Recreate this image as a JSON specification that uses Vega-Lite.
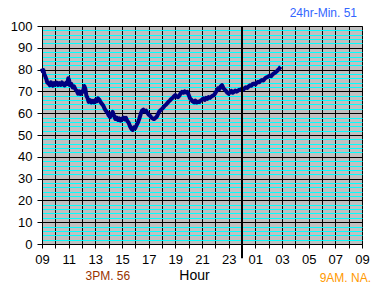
{
  "$schema": "https://vega.github.io/schema/vega-lite/v6.json",
  "autosize": "none",
  "width": 320,
  "height": 218,
  "padding": {"left": 42, "top": 26, "right": 23, "bottom": 46},
  "background": "white",
  "title": {"text": "24hr-Min. 51", "anchor": "end", "frame": "group", "color": "#3366FF", "font": "Arial", "fontSize": 12, "fontWeight": "normal", "offset": 0, "dx": -5},
  "config": {
    "view": {"fill": "#C0C0C0", "stroke": "#808080", "strokeWidth": 1},
    "axis": {"domainColor": "black", "domainWidth": 1, "labelFont": "Arial", "labelFontSize": 13, "labelColor": "black", "tickColor": "black", "gridOpacity": 1, "gridWidth": 1}
  },
  "data": {"values": [
    {"hour": 9.0, "temp": 80.5}, {"hour": 9.05, "temp": 79.2}, {"hour": 9.1, "temp": 79.8}, {"hour": 9.17, "temp": 78.0}, {"hour": 9.25, "temp": 76.8}, {"hour": 9.33, "temp": 75.5}, {"hour": 9.4, "temp": 74.0}, {"hour": 9.5, "temp": 73.6}, {"hour": 9.58, "temp": 72.8}, {"hour": 9.67, "temp": 74.2}, {"hour": 9.75, "temp": 73.3}, {"hour": 9.83, "temp": 72.6}, {"hour": 9.92, "temp": 73.8}, {"hour": 10.0, "temp": 73.2}, {"hour": 10.1, "temp": 74.0}, {"hour": 10.2, "temp": 72.9}, {"hour": 10.3, "temp": 73.8}, {"hour": 10.4, "temp": 73.0}, {"hour": 10.5, "temp": 74.1}, {"hour": 10.6, "temp": 73.1}, {"hour": 10.7, "temp": 72.7}, {"hour": 10.8, "temp": 73.9}, {"hour": 10.9, "temp": 73.4}, {"hour": 10.97, "temp": 76.0}, {"hour": 11.03, "temp": 75.2}, {"hour": 11.1, "temp": 72.8}, {"hour": 11.2, "temp": 73.4}, {"hour": 11.3, "temp": 71.8}, {"hour": 11.4, "temp": 72.3}, {"hour": 11.5, "temp": 71.0}, {"hour": 11.6, "temp": 70.3}, {"hour": 11.7, "temp": 69.0}, {"hour": 11.8, "temp": 70.0}, {"hour": 11.9, "temp": 68.8}, {"hour": 12.0, "temp": 69.5}, {"hour": 12.1, "temp": 70.6}, {"hour": 12.17, "temp": 72.5}, {"hour": 12.25, "temp": 71.2}, {"hour": 12.33, "temp": 68.0}, {"hour": 12.4, "temp": 67.2}, {"hour": 12.5, "temp": 65.2}, {"hour": 12.6, "temp": 66.0}, {"hour": 12.7, "temp": 64.9}, {"hour": 12.8, "temp": 65.6}, {"hour": 12.9, "temp": 65.0}, {"hour": 13.0, "temp": 66.0}, {"hour": 13.1, "temp": 65.4}, {"hour": 13.2, "temp": 66.8}, {"hour": 13.3, "temp": 66.2}, {"hour": 13.4, "temp": 65.0}, {"hour": 13.5, "temp": 64.2}, {"hour": 13.6, "temp": 63.4}, {"hour": 13.7, "temp": 62.0}, {"hour": 13.8, "temp": 61.0}, {"hour": 13.9, "temp": 60.4}, {"hour": 14.0, "temp": 59.0}, {"hour": 14.1, "temp": 58.2}, {"hour": 14.2, "temp": 59.6}, {"hour": 14.3, "temp": 60.6}, {"hour": 14.4, "temp": 58.8}, {"hour": 14.5, "temp": 57.4}, {"hour": 14.6, "temp": 58.0}, {"hour": 14.7, "temp": 56.9}, {"hour": 14.8, "temp": 57.6}, {"hour": 14.9, "temp": 56.6}, {"hour": 15.0, "temp": 57.3}, {"hour": 15.1, "temp": 58.0}, {"hour": 15.2, "temp": 57.2}, {"hour": 15.3, "temp": 57.8}, {"hour": 15.4, "temp": 56.4}, {"hour": 15.5, "temp": 55.6}, {"hour": 15.6, "temp": 54.0}, {"hour": 15.7, "temp": 52.8}, {"hour": 15.8, "temp": 52.3}, {"hour": 15.9, "temp": 53.5}, {"hour": 16.0, "temp": 53.2}, {"hour": 16.1, "temp": 54.6}, {"hour": 16.2, "temp": 55.8}, {"hour": 16.3, "temp": 57.5}, {"hour": 16.4, "temp": 59.6}, {"hour": 16.5, "temp": 61.2}, {"hour": 16.6, "temp": 61.6}, {"hour": 16.7, "temp": 60.8}, {"hour": 16.8, "temp": 61.2}, {"hour": 16.9, "temp": 60.2}, {"hour": 17.0, "temp": 59.3}, {"hour": 17.1, "temp": 58.8}, {"hour": 17.2, "temp": 58.0}, {"hour": 17.3, "temp": 57.6}, {"hour": 17.4, "temp": 57.3}, {"hour": 17.5, "temp": 57.8}, {"hour": 17.6, "temp": 58.3}, {"hour": 17.7, "temp": 59.6}, {"hour": 17.8, "temp": 60.8}, {"hour": 17.9, "temp": 61.4}, {"hour": 18.0, "temp": 62.0}, {"hour": 18.1, "temp": 62.6}, {"hour": 18.2, "temp": 63.4}, {"hour": 18.3, "temp": 63.9}, {"hour": 18.4, "temp": 64.6}, {"hour": 18.5, "temp": 65.3}, {"hour": 18.6, "temp": 65.9}, {"hour": 18.7, "temp": 66.6}, {"hour": 18.8, "temp": 67.0}, {"hour": 18.9, "temp": 67.8}, {"hour": 19.0, "temp": 68.3}, {"hour": 19.1, "temp": 67.6}, {"hour": 19.2, "temp": 67.3}, {"hour": 19.3, "temp": 68.0}, {"hour": 19.4, "temp": 69.2}, {"hour": 19.5, "temp": 69.8}, {"hour": 19.6, "temp": 69.4}, {"hour": 19.7, "temp": 70.0}, {"hour": 19.8, "temp": 69.5}, {"hour": 19.9, "temp": 69.8}, {"hour": 20.0, "temp": 68.4}, {"hour": 20.1, "temp": 66.8}, {"hour": 20.2, "temp": 66.2}, {"hour": 20.3, "temp": 65.4}, {"hour": 20.4, "temp": 65.0}, {"hour": 20.5, "temp": 65.8}, {"hour": 20.6, "temp": 64.9}, {"hour": 20.7, "temp": 65.3}, {"hour": 20.8, "temp": 65.1}, {"hour": 20.9, "temp": 65.8}, {"hour": 21.0, "temp": 66.2}, {"hour": 21.1, "temp": 66.8}, {"hour": 21.2, "temp": 66.1}, {"hour": 21.3, "temp": 67.0}, {"hour": 21.4, "temp": 66.6}, {"hour": 21.5, "temp": 67.4}, {"hour": 21.6, "temp": 67.0}, {"hour": 21.7, "temp": 67.6}, {"hour": 21.8, "temp": 68.0}, {"hour": 21.9, "temp": 68.3}, {"hour": 22.0, "temp": 69.2}, {"hour": 22.1, "temp": 70.3}, {"hour": 22.2, "temp": 71.4}, {"hour": 22.3, "temp": 71.0}, {"hour": 22.4, "temp": 72.3}, {"hour": 22.5, "temp": 72.9}, {"hour": 22.6, "temp": 71.6}, {"hour": 22.7, "temp": 70.8}, {"hour": 22.8, "temp": 70.2}, {"hour": 22.9, "temp": 69.4}, {"hour": 23.0, "temp": 68.9}, {"hour": 23.1, "temp": 69.6}, {"hour": 23.2, "temp": 70.2}, {"hour": 23.3, "temp": 69.4}, {"hour": 23.4, "temp": 69.8}, {"hour": 23.5, "temp": 70.4}, {"hour": 23.6, "temp": 69.9}, {"hour": 23.7, "temp": 70.3}, {"hour": 23.8, "temp": 70.8}, {"hour": 23.9, "temp": 70.6}, {"hour": 24.0, "temp": 71.2}, {"hour": 24.1, "temp": 70.8}, {"hour": 24.2, "temp": 71.5}, {"hour": 24.3, "temp": 71.9}, {"hour": 24.4, "temp": 71.6}, {"hour": 24.5, "temp": 72.3}, {"hour": 24.6, "temp": 72.8}, {"hour": 24.7, "temp": 72.6}, {"hour": 24.8, "temp": 73.4}, {"hour": 24.9, "temp": 73.6}, {"hour": 25.0, "temp": 73.2}, {"hour": 25.1, "temp": 74.0}, {"hour": 25.2, "temp": 74.4}, {"hour": 25.3, "temp": 74.2}, {"hour": 25.4, "temp": 74.9}, {"hour": 25.5, "temp": 75.2}, {"hour": 25.6, "temp": 75.0}, {"hour": 25.7, "temp": 75.8}, {"hour": 25.8, "temp": 76.3}, {"hour": 25.9, "temp": 76.6}, {"hour": 26.0, "temp": 76.9}, {"hour": 26.1, "temp": 77.3}, {"hour": 26.2, "temp": 77.0}, {"hour": 26.3, "temp": 77.8}, {"hour": 26.4, "temp": 78.3}, {"hour": 26.5, "temp": 78.6}, {"hour": 26.6, "temp": 79.2}, {"hour": 26.7, "temp": 79.8}, {"hour": 26.8, "temp": 80.5}, {"hour": 26.9, "temp": 81.3}
  ]},
  "layer": [
    {
      "mark": {"type": "line", "color": "#000080", "strokeWidth": 4, "strokeJoin": "round"},
      "encoding": {
        "x": {"field": "hour", "type": "quantitative",
          "scale": {"domain": [9, 33], "nice": false, "zero": false},
          "axis": {
            "values": [9,10,11,12,13,14,15,16,17,18,19,20,21,22,23,24,25,26,27,28,29,30,31,32,33],
            "tickCount": 100,
            "labelExpr": "datum.value % 2 == 1 ? ((datum.value % 24) < 10 ? '0' : '') + (datum.value % 24) : ''",
            "labelOverlap": false, "labelFlush": false,
            "grid": true, "gridColor": "black",
            "tickSize": 4, "labelPadding": 5,
            "title": "Hour", "titleFont": "Arial", "titleFontSize": 14, "titleFontWeight": "normal", "titleColor": "black", "titleX": 152, "titlePadding": 2
          }},
        "y": {"field": "temp", "type": "quantitative",
          "scale": {"domain": [0, 100], "nice": false},
          "axis": {
            "values": [0,2,4,6,8,10,12,14,16,18,20,22,24,26,28,30,32,34,36,38,40,42,44,46,48,50,52,54,56,58,60,62,64,66,68,70,72,74,76,78,80,82,84,86,88,90,92,94,96,98,100],
            "tickCount": 200,
            "labelExpr": "datum.value % 10 == 0 ? '' + datum.value : ''",
            "labelOverlap": false, "labelFlush": false,
            "grid": true,
            "gridColor": {"condition": {"test": "datum.value % 10 == 0", "value": "black"}, "value": "#00FFFF"},
            "tickOpacity": {"condition": {"test": "datum.value % 10 == 0", "value": 1}, "value": 0},
            "tickSize": 5, "labelPadding": 5, "title": null
          }}
      }
    },
    {
      "data": {"values": [{}]},
      "mark": {"type": "rule", "color": "black", "strokeWidth": 2},
      "encoding": {"x": {"datum": 24, "type": "quantitative"}, "y": {"datum": 100, "type": "quantitative"}, "y2": {"datum": -6.5}}
    },
    {
      "data": {"values": [{}]},
      "mark": {"type": "text", "text": "3PM. 56", "color": "#993300", "font": "Arial", "fontSize": 12},
      "encoding": {"x": {"datum": 13.94, "type": "quantitative"}, "y": {"datum": -14.6, "type": "quantitative"}}
    },
    {
      "data": {"values": [{}]},
      "mark": {"type": "text", "text": "9AM. NA.", "color": "#FF9900", "font": "Arial", "fontSize": 12},
      "encoding": {"x": {"datum": 31.75, "type": "quantitative"}, "y": {"datum": -15.4, "type": "quantitative"}}
    }
  ]
}
